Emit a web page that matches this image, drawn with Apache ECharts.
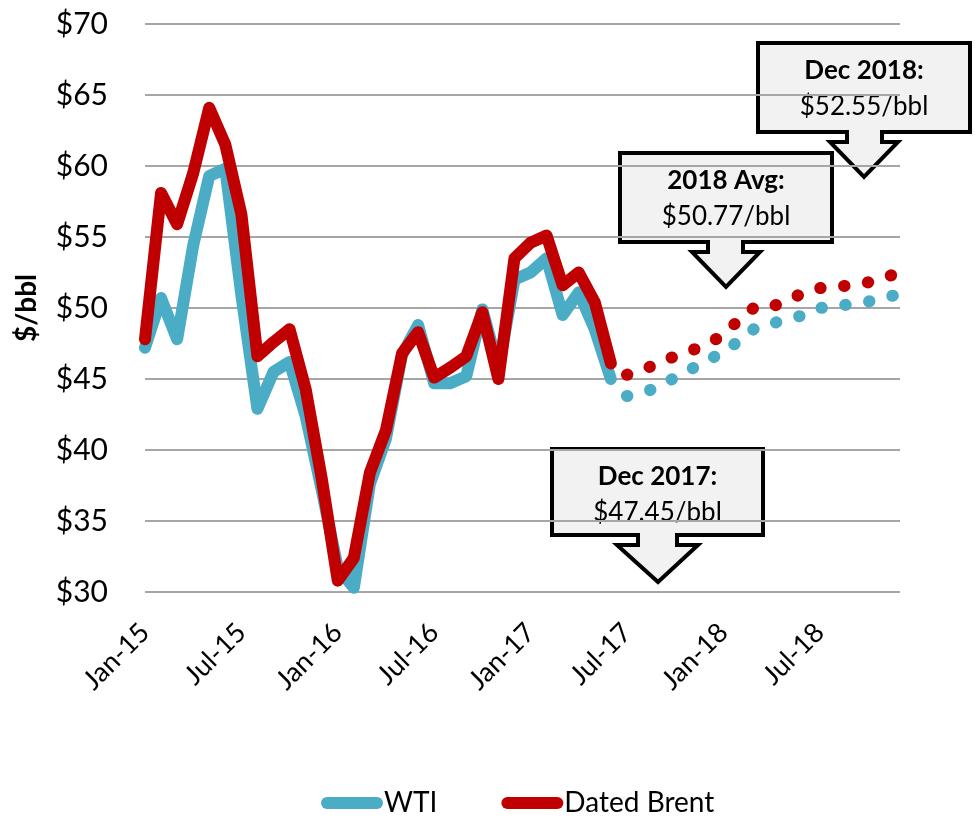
<!DOCTYPE html>
<html>
<head>
<meta charset="utf-8">
<title>WTI and Dated Brent</title>
<script src="https://cdn.jsdelivr.net/npm/echarts@6/dist/echarts.min.js"></script>
<style>
  html, body { margin: 0; padding: 0; background: #fff; }
  #chart { width: 975px; height: 816px; }
</style>
</head>
<body>
<div id="chart"></div>
<script>
// monthly categories, Jan-15 .. Dec-18
const months = [
  "Jan-15", "Feb-15", "Mar-15", "Apr-15", "May-15", "Jun-15", "Jul-15", "Aug-15", "Sep-15", "Oct-15", "Nov-15", "Dec-15",
  "Jan-16", "Feb-16", "Mar-16", "Apr-16", "May-16", "Jun-16", "Jul-16", "Aug-16", "Sep-16", "Oct-16", "Nov-16", "Dec-16",
  "Jan-17", "Feb-17", "Mar-17", "Apr-17", "May-17", "Jun-17", "Jul-17", "Aug-17", "Sep-17", "Oct-17", "Nov-17", "Dec-17",
  "Jan-18", "Feb-18", "Mar-18", "Apr-18", "May-18", "Jun-18", "Jul-18", "Aug-18", "Sep-18", "Oct-18", "Nov-18", "Dec-18"
];

// history, Jan-15 .. Jun-17 ($/bbl)
const wtiActual = [
  47.2, 50.7, 47.8, 54.4, 59.3, 59.8, 50.9, 42.9, 45.5, 46.2, 42.4, 37.2,
  31.7, 30.3, 37.6, 40.8, 46.7, 48.8, 44.7, 44.7, 45.2, 49.9, 45.7, 52.0,
  52.5, 53.5, 49.5, 51.1, 48.5, 45.0
];
const brentActual = [
  47.8, 58.1, 55.9, 59.5, 64.1, 61.5, 56.6, 46.6, 47.6, 48.5, 44.3, 38.0,
  30.8, 32.4, 38.4, 41.4, 46.8, 48.3, 45.1, 45.8, 46.6, 49.7, 45.0, 53.5,
  54.6, 55.1, 51.6, 52.5, 50.4, 46.1
];

// forecast, Jul-17 .. Dec-18 ($/bbl)
const wtiForecast = [
  43.8, 44.0, 44.5, 45.1, 45.7, 46.3,
  46.9, 47.7, 48.6, 48.9, 49.2, 49.5, 50.0, 50.1, 50.3, 50.45, 50.7, 51.0
];
const brentForecast = [
  45.3, 45.6, 46.2, 46.6, 47.0, 47.45,
  48.1, 49.2, 50.1, 50.1, 50.5, 51.1, 51.4, 51.5, 51.6, 51.8, 52.1, 52.55
];

const yTicks = { min: 30, max: 70, interval: 5 };

const WTI_COLOR = "#4bacc6";
const BRENT_COLOR = "#c00000";
const FONT = "Lato";

const padHist = new Array(wtiForecast.length).fill(null);
const padFc = new Array(wtiActual.length).fill(null);

// down-arrow callout: box + shaft + head, outline as one polygon
function callout(box, shaft, head, title, value) {
  const [l, t, r, b] = box;
  const [sl, sr, sb] = shaft;
  const [hl, hr, tipX, tipY] = head;
  return {
    type: "group",
    children: [
      {
        type: "polygon",
        shape: {
          points: [
            [l, t], [r, t], [r, b], [sr, b], [sr, sb], [hr, sb],
            [tipX, tipY], [hl, sb], [sl, sb], [sl, b], [l, b]
          ]
        },
        style: { fill: "#f2f2f2", stroke: "#000", lineWidth: 4, lineJoin: "miter" }
      },
      {
        type: "text",
        style: {
          text: title, x: (l + r) / 2, y: t + 28, align: "center", verticalAlign: "middle",
          font: "bold 26px " + FONT, fill: "#000"
        }
      },
      {
        type: "text",
        style: {
          text: value, x: (l + r) / 2, y: t + 64, align: "center", verticalAlign: "middle",
          font: "26px " + FONT, fill: "#000"
        }
      }
    ]
  };
}

const chart = echarts.init(document.getElementById("chart"), null, { renderer: "canvas" });

chart.setOption({
  animation: false,
  backgroundColor: "#fff",
  grid: { left: 145, right: 75, top: 24, bottom: 224, containLabel: false },
  legend: {
    data: ["WTI", "Dated Brent"],
    left: 316,
    top: 784,
    itemWidth: 62,
    itemHeight: 12,
    itemGap: 64,
    icon: "path://M6,0 L56,0 A6,6 0 0 1 56,12 L6,12 A6,6 0 0 1 6,0 Z",
    textStyle: { fontFamily: FONT, fontSize: 28, color: "#000", padding: [0, 0, 0, -4] }
  },
  xAxis: {
    type: "category",
    data: months,
    boundaryGap: false,
    axisLine: { show: false },
    axisTick: { show: false },
    axisLabel: {
      interval: 5,
      rotate: 45,
      margin: 36,
      fontFamily: FONT,
      fontSize: 27,
      color: "#000"
    },
    splitLine: { show: false }
  },
  yAxis: {
    type: "value",
    min: yTicks.min,
    max: yTicks.max,
    interval: yTicks.interval,
    name: "$/bbl",
    nameLocation: "middle",
    nameGap: 104,
    nameTextStyle: { fontFamily: FONT, fontSize: 28, fontWeight: "bold", color: "#000" },
    axisLine: { show: false },
    axisTick: { show: false },
    axisLabel: {
      margin: 37,
      fontFamily: FONT,
      fontSize: 30,
      color: "#000",
      formatter: (v) => "$" + v
    },
    splitLine: { lineStyle: { color: "#a6a6a6", width: 2 } }
  },
  series: [
    {
      name: "WTI",
      type: "line",
      data: wtiActual.concat(padHist),
      symbol: "none",
      color: WTI_COLOR,
      lineStyle: { color: WTI_COLOR, width: 12, join: "round", cap: "round" },
      z: 2
    },
    {
      name: "Dated Brent",
      type: "line",
      data: brentActual.concat(padHist),
      symbol: "none",
      color: BRENT_COLOR,
      lineStyle: { color: BRENT_COLOR, width: 12, join: "round", cap: "round" },
      z: 3
    },
    {
      name: "WTI forecast",
      type: "line",
      data: padFc.concat(wtiForecast),
      symbol: "none",
      lineStyle: { color: WTI_COLOR, width: 12, type: [0.5, 23.5], cap: "round" },
      z: 2
    },
    {
      name: "Dated Brent forecast",
      type: "line",
      data: padFc.concat(brentForecast),
      symbol: "none",
      lineStyle: { color: BRENT_COLOR, width: 12, type: [0.5, 23.5], cap: "round" },
      z: 3
    }
  ],
  graphic: [
    callout([758, 43, 970, 132], [847, 882, 142], [830, 898, 864, 177], "Dec 2018:", "$52.55/bbl"),
    callout([620, 153, 832, 242], [708, 743, 252], [692, 760, 726, 287], "2018 Avg:", "$50.77/bbl"),
    callout([552, 449, 763, 535], [638, 677, 545], [617, 698, 658, 582], "Dec 2017:", "$47.45/bbl")
  ]
});
</script>
</body>
</html>
